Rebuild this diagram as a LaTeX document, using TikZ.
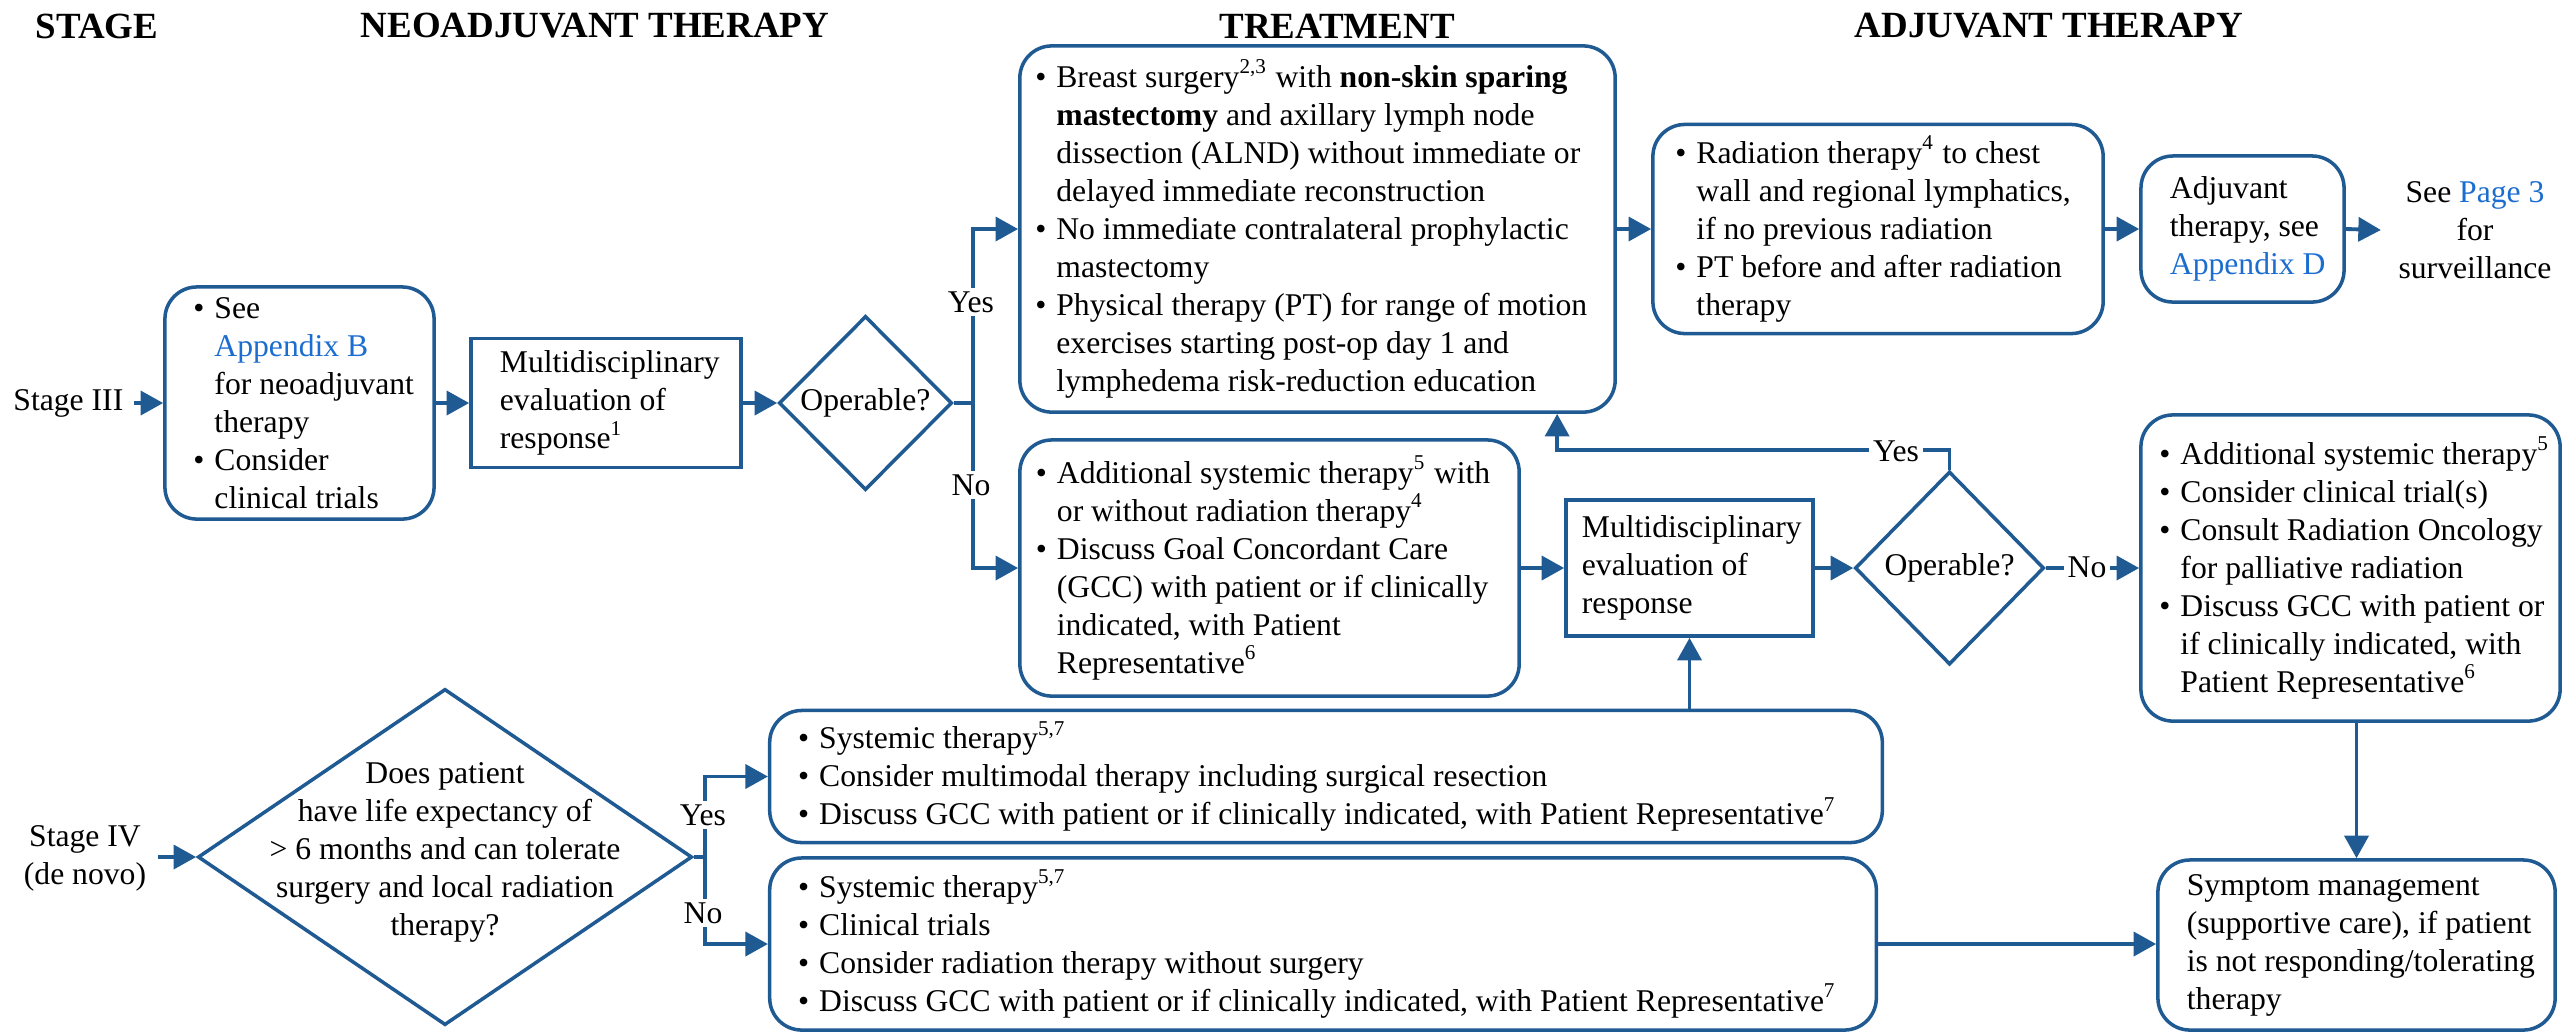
\documentclass[tikz,border=0pt]{standalone}
\usepackage{fontspec}
\setmainfont{Liberation Serif}
\usetikzlibrary{arrows.meta,shapes.geometric}
\definecolor{lc}{HTML}{1F5A92}
\definecolor{lk}{HTML}{1C6DD0}
\newcommand{\myb}{\makebox[6pt][l]{\textbullet}}
\newcommand{\myi}{\hspace*{6pt}}
\newcommand{\lnk}[1]{\textcolor{lk}{#1}}
\tikzset{
  rbox/.style={draw=lc, line width=1pt, rounded corners=0.32cm, inner sep=0pt},
  sbox/.style={draw=lc, line width=1pt, inner sep=0pt},
  dia/.style={draw=lc, line width=1pt, diamond, inner sep=0pt},
  txt/.style={inner sep=0pt, align=left, anchor=west},
  arr/.style={draw=lc, line width=1.1pt, -{Triangle[length=6.4pt,width=6.8pt]}},
  lbl/.style={fill=white, inner sep=1pt},
  hdr/.style={font=\fontsize{10.5}{12}\selectfont\bfseries}
}
\begin{document}
\begin{tikzpicture}[x=0.01cm, y=-0.01cm, font=\fontsize{9}{10.8}\selectfont]
\useasboundingbox (0,0) rectangle (2564,1032);

% headers
\node[hdr] (hstage) at (97,26) {STAGE};
\node[hdr] (hneo) at (595,26) {NEOADJUVANT THERAPY};
\node[hdr] (htr) at (1337,26) {TREATMENT};
\node[hdr] (hadj) at (2049,26) {ADJUVANT THERAPY};

% stage III row
\node[anchor=east, inner xsep=0.1cm] (s3) at (134,403) {Stage III};
\node[rbox, minimum width=2.69cm, minimum height=2.32cm] (b1) at (299.5,403) {};
\node[txt] (b1t) at ([xshift=0.295cm]b1.west) {\myb See\\\myi\lnk{Appendix B}\\\myi for neoadjuvant\\\myi therapy\\\myb Consider\\\myi clinical trials};
\node[sbox, minimum width=2.70cm, minimum height=1.29cm] (b2) at (606,403) {};
\node[txt] (b2t) at ([xshift=0.30cm]b2.west) {Multidisciplinary\\evaluation of\\response\textsuperscript{1}};
\node[dia, minimum width=1.73cm, minimum height=1.74cm] (d1) at (865.5,403) {};
\node (d1t) at (d1.center) {Operable?};

% treatment top
\node[rbox, minimum width=5.95cm, minimum height=3.66cm] (b3) at (1317.5,229) {};
\node[txt] (b3t) at ([xshift=0.165cm]b3.west) {\myb Breast surgery\textsuperscript{2,3} with \textbf{non-skin sparing}\\
\myi\textbf{mastectomy} and axillary lymph node\\
\myi dissection (ALND) without immediate or\\
\myi delayed immediate reconstruction\\
\myb No immediate contralateral prophylactic\\
\myi mastectomy\\
\myb Physical therapy (PT) for range of motion\\
\myi exercises starting post-op day 1 and\\
\myi lymphedema risk-reduction education};
\node[rbox, minimum width=4.50cm, minimum height=2.09cm] (b4) at (1878,229) {};
\node[txt] (b4t) at ([xshift=0.235cm]b4.west) {\myb Radiation therapy\textsuperscript{4} to chest\\
\myi wall and regional lymphatics,\\
\myi if no previous radiation\\
\myb PT before and after radiation\\
\myi therapy};
\node[rbox, minimum width=2.03cm, minimum height=1.46cm] (b7) at (2242.5,229) {};
\node[txt] (b7t) at ([xshift=0.30cm]b7.west) {Adjuvant\\therapy, see\\\lnk{Appendix D}};
\node[align=center, inner xsep=0.17cm, inner ysep=0pt] (see) at (2475,230) {See \lnk{Page 3}\\for\\surveillance};

% treatment middle
\node[rbox, minimum width=4.99cm, minimum height=2.56cm] (b5) at (1269.5,568) {};
\node[txt] (b5t) at ([xshift=0.17cm]b5.west) {\myb Additional systemic therapy\textsuperscript{5} with\\
\myi or without radiation therapy\textsuperscript{4}\\
\myb Discuss Goal Concordant Care\\
\myi (GCC) with patient or if clinically\\
\myi indicated, with Patient\\
\myi Representative\textsuperscript{6}};
\node[sbox, minimum width=2.47cm, minimum height=1.36cm] (b6) at (1689.5,568) {};
\node[txt] (b6t) at ([xshift=0.17cm]b6.west) {Multidisciplinary\\evaluation of\\response};
\node[dia, minimum width=1.89cm, minimum height=1.93cm] (d2) at (1949.5,568) {};
\node (d2t) at (d2.center) {Operable?};
\node[rbox, minimum width=4.19cm, minimum height=3.06cm] (b8) at (2350.5,568) {};
\node[txt] (b8t) at ([xshift=0.195cm]b8.west) {\myb Additional systemic therapy\textsuperscript{5}\\
\myb Consider clinical trial(s)\\
\myb Consult Radiation Oncology\\
\myi for palliative radiation\\
\myb Discuss GCC with patient or\\
\myi if clinically indicated, with\\
\myi Patient Representative\textsuperscript{6}};

% stage IV
\node[align=center, inner xsep=0.11cm] (s4) at (85,858) {Stage IV\\(de novo)};
\node[dia, minimum width=4.94cm, minimum height=3.36cm] (d3) at (445,857) {};
\node[align=center, inner sep=0pt] (d3t) at (445,852) {Does patient\\have life expectancy of\\> 6 months and can tolerate\\surgery and local radiation\\therapy?};
\node[rbox, minimum width=11.12cm, minimum height=1.32cm] (b10) at (1326,776.5) {};
\node[txt] (b10t) at ([xshift=0.295cm]b10.west) {\myb Systemic therapy\textsuperscript{5,7}\\
\myb Consider multimodal therapy including surgical resection\\
\myb Discuss GCC with patient or if clinically indicated, with Patient Representative\textsuperscript{7}};
\node[rbox, minimum width=11.06cm, minimum height=1.72cm] (b11) at (1323,944) {};
\node[txt] (b11t) at ([xshift=0.295cm]b11.west) {\myb Systemic therapy\textsuperscript{5,7}\\
\myb Clinical trials\\
\myb Consider radiation therapy without surgery\\
\myb Discuss GCC with patient or if clinically indicated, with Patient Representative\textsuperscript{7}};
\node[rbox, minimum width=3.97cm, minimum height=1.70cm] (b9) at (2356.5,945) {};
\node[txt] (b9t) at ([xshift=0.30cm]b9.west) {Symptom management\\(supportive care), if patient\\is not responding/tolerating\\therapy};

% connectors
\draw[arr] (s3.east) -- (b1.west);
\draw[arr] (b1.east) -- (b2.west);
\draw[arr] (b2.east) -- (d1.west);
\draw[arr] (d1.east) -- ++(19,0) |- (b3.west);
\draw[arr] (d1.east) -- ++(19,0) |- (b5.west);
\draw[arr] (b3.east) -- (b4.west);
\draw[arr] (b4.east) -- (b7.west);
\draw[arr] (b7.east) -- (see.west);
\draw[arr] (b5.east) -- (b6.west);
\draw[arr] (b6.east) -- (d2.west);
\draw[arr] (d2.east) -- (b8.west);
\draw[arr] (d2.north) -- ++(0,-20) -| ([xshift=2.395cm]b3.south);
\draw[arr] (b9.north |- b8.south) -- (b9.north);
\draw[arr] (b6.south |- b10.north) -- (b6.south);
\draw[arr] (d3.west -| s4.east) -- (d3.west);
\draw[arr] (d3.east) -- ++(11,0) |- (b10.west);
\draw[arr] (d3.east) -- ++(11,0) |- (b11.west);
\draw[arr] (b11.east) -- (b11.east -| b9.west);

% labels
\node[lbl] (y1) at (971,302) {Yes};
\node[lbl] (n1) at (971,485) {No};
\node[lbl] (y2) at (1896,451) {Yes};
\node[lbl] (n2) at (2087,567) {No};
\node[lbl] (y3) at (703,815) {Yes};
\node[lbl] (n3) at (703,913) {No};
\end{tikzpicture}
\end{document}
